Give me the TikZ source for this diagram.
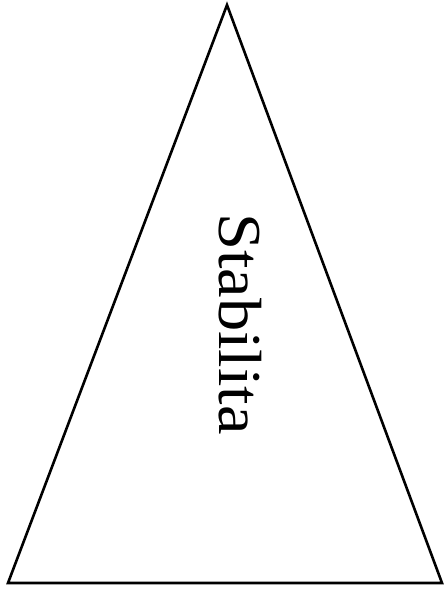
\documentclass[tikz,border=0pt]{standalone}
\usepackage{fontspec}
\setmainfont{Liberation Serif}
\begin{document}
\begin{tikzpicture}[x=1pt,y=1pt,
  tri/.style={draw=black,line width=2.6pt,line join=miter},
  lbl/.style={font=\fontsize{61}{70}\selectfont,rotate=-90,inner sep=0pt}]
\useasboundingbox (0,0) rectangle (446,591);
\coordinate (apex) at (227,586);
\coordinate (bl) at (8,8);
\coordinate (br) at (442,8);
\draw[tri] (apex) -- (bl) -- (br) -- cycle;
\node[lbl] (stab) at (240,267) {\scalebox{1.09}[1]{Stabilita}};
\end{tikzpicture}
\end{document}
